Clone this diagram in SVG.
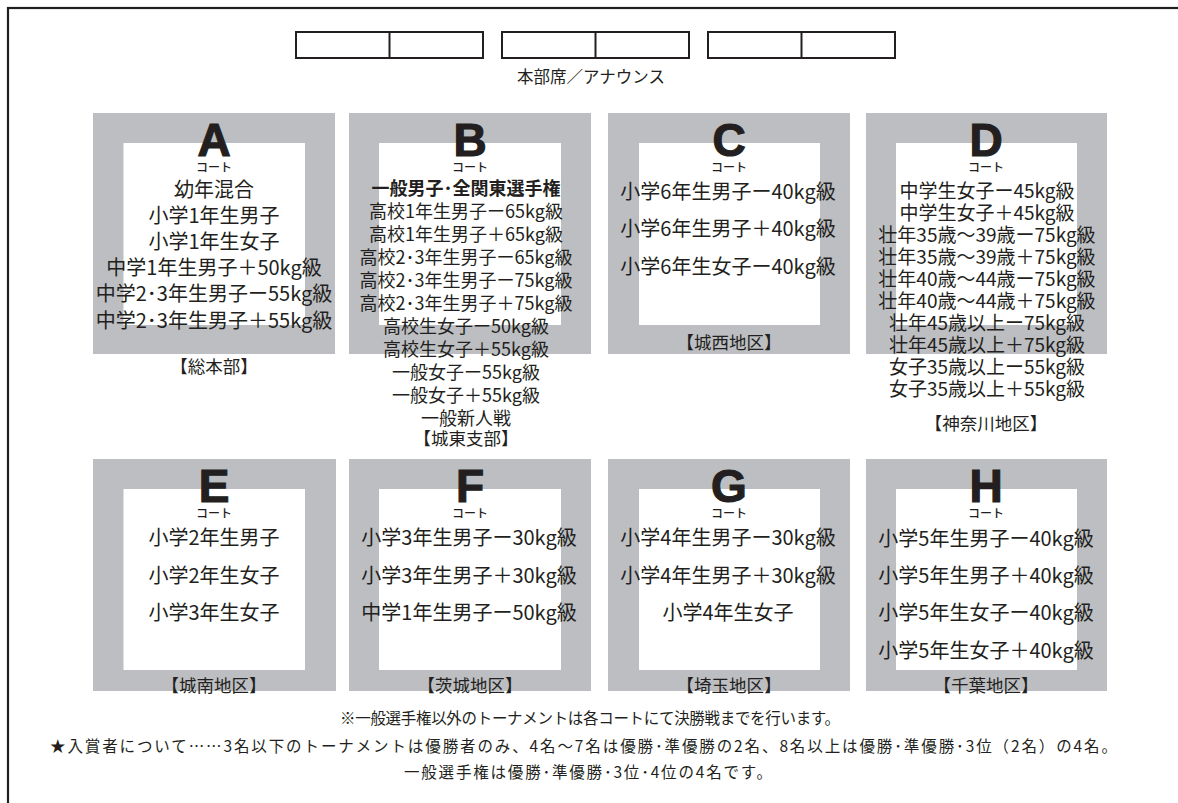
<svg xmlns="http://www.w3.org/2000/svg" width="1178" height="803" viewBox="0 0 1178 803">
<style>
.bg{fill:#ffffff}
.frame{fill:none;stroke:#231f20;stroke-width:2.2}
.desk{fill:#ffffff;stroke:#231f20;stroke-width:2}
.court{fill:#bcbec1}
.inner{fill:#ffffff}
.t{font-family:"Noto Sans CJK JP","Noto Sans",sans-serif;fill:#231f20;text-anchor:middle}
.a{font-size:20px}
.b{font-size:18px}
.d{font-size:19px}
.bold{font-weight:bold}
.lab{font-size:17.5px}
.ct{font-size:12px;font-weight:500}
.L{font-family:"Liberation Sans",Arial,sans-serif;font-weight:bold;font-size:46px;fill:#231f20;stroke:#231f20;stroke-width:1.2;text-anchor:middle}
.note{font-family:"Noto Sans CJK JP","Noto Sans",sans-serif;fill:#231f20;font-size:15.5px}
</style>
<rect class="bg" x="0" y="0" width="1178" height="803"/>
<rect class="frame" x="8" y="8" width="1200" height="900"/>

<g id="desk">
  <rect class="desk" x="296" y="32" width="187" height="26"/>
  <line x1="389.5" y1="32" x2="389.5" y2="58" stroke="#231f20" stroke-width="2"/>
  <rect class="desk" x="502" y="32" width="187" height="26"/>
  <line x1="595.5" y1="32" x2="595.5" y2="58" stroke="#231f20" stroke-width="2"/>
  <rect class="desk" x="708" y="32" width="187" height="26"/>
  <line x1="801.5" y1="32" x2="801.5" y2="58" stroke="#231f20" stroke-width="2"/>
  <text class="t" x="591" y="83" font-size="16.5">本部席／アナウンス</text>
</g>

<g id="court-A">
  <rect class="court" x="93" y="113" width="242" height="241"/>
  <rect class="inner" x="123.5" y="143" width="181.5" height="182"/>
  <text class="L" x="214" y="156">A</text>
  <text class="t ct" x="214" y="172">コート</text>
  <text class="t a" x="214" y="197">幼年混合</text>
  <text class="t a" x="214" y="223">小学1年生男子</text>
  <text class="t a" x="214" y="249">小学1年生女子</text>
  <text class="t a" x="214" y="275">中学1年生男子＋50kg級</text>
  <text class="t a" x="214" y="301">中学2･3年生男子ー55kg級</text>
  <text class="t a" x="214" y="328">中学2･3年生男子＋55kg級</text>
  <text class="t lab" x="214" y="373">【総本部】</text>
</g>

<g id="court-B">
  <rect class="court" x="349" y="113" width="242" height="241"/>
  <rect class="inner" x="379" y="143" width="182" height="182"/>
  <text class="L" x="470" y="156">B</text>
  <text class="t ct" x="470" y="172">コート</text>
  <text class="t b bold" x="466" y="195" font-size="18.5">一般男子･全関東選手権</text>
  <text class="t b" x="466" y="218">高校1年生男子ー65kg級</text>
  <text class="t b" x="466" y="241">高校1年生男子＋65kg級</text>
  <text class="t b" x="466" y="264">高校2･3年生男子ー65kg級</text>
  <text class="t b" x="466" y="287">高校2･3年生男子ー75kg級</text>
  <text class="t b" x="466" y="310">高校2･3年生男子＋75kg級</text>
  <text class="t b" x="466" y="333">高校生女子ー50kg級</text>
  <text class="t b" x="466" y="356">高校生女子＋55kg級</text>
  <text class="t b" x="466" y="379">一般女子ー55kg級</text>
  <text class="t b" x="466" y="402">一般女子＋55kg級</text>
  <text class="t b" x="466" y="425">一般新人戦</text>
  <text class="t lab" x="466" y="445">【城東支部】</text>
</g>

<g id="court-C">
  <rect class="court" x="608" y="113" width="242" height="241"/>
  <rect class="inner" x="639" y="143" width="181" height="182"/>
  <text class="L" x="729" y="156">C</text>
  <text class="t ct" x="729" y="172">コート</text>
  <text class="t a" x="728" y="199">小学6年生男子ー40kg級</text>
  <text class="t a" x="728" y="236">小学6年生男子＋40kg級</text>
  <text class="t a" x="728" y="274">小学6年生女子ー40kg級</text>
  <text class="t lab" x="729" y="349">【城西地区】</text>
</g>

<g id="court-D">
  <rect class="court" x="866" y="113" width="241" height="241"/>
  <rect class="inner" x="896" y="143" width="181" height="182"/>
  <text class="L" x="986" y="156">D</text>
  <text class="t ct" x="986" y="172">コート</text>
  <text class="t d" x="987" y="198">中学生女子ー45kg級</text>
  <text class="t d" x="987" y="220">中学生女子＋45kg級</text>
  <text class="t d" x="987" y="242">壮年35歳～39歳ー75kg級</text>
  <text class="t d" x="987" y="264">壮年35歳～39歳＋75kg級</text>
  <text class="t d" x="987" y="286">壮年40歳～44歳ー75kg級</text>
  <text class="t d" x="987" y="308">壮年40歳～44歳＋75kg級</text>
  <text class="t d" x="987" y="330">壮年45歳以上ー75kg級</text>
  <text class="t d" x="987" y="352">壮年45歳以上＋75kg級</text>
  <text class="t d" x="987" y="374">女子35歳以上ー55kg級</text>
  <text class="t d" x="987" y="396">女子35歳以上＋55kg級</text>
  <text class="t lab" x="986" y="430">【神奈川地区】</text>
</g>

<g id="court-E">
  <rect class="court" x="93" y="459" width="243" height="232"/>
  <rect class="inner" x="123.5" y="489" width="181.5" height="181"/>
  <text class="L" x="214" y="502">E</text>
  <text class="t ct" x="214" y="518">コート</text>
  <text class="t a" x="214" y="545">小学2年生男子</text>
  <text class="t a" x="214" y="583">小学2年生女子</text>
  <text class="t a" x="214" y="620">小学3年生女子</text>
  <text class="t lab" x="214" y="692">【城南地区】</text>
</g>

<g id="court-F">
  <rect class="court" x="349" y="459" width="242" height="232"/>
  <rect class="inner" x="379" y="489" width="182" height="181"/>
  <text class="L" x="470" y="502">F</text>
  <text class="t ct" x="470" y="518">コート</text>
  <text class="t a" x="469" y="545">小学3年生男子ー30kg級</text>
  <text class="t a" x="469" y="583">小学3年生男子＋30kg級</text>
  <text class="t a" x="469" y="620">中学1年生男子ー50kg級</text>
  <text class="t lab" x="470" y="692">【茨城地区】</text>
</g>

<g id="court-G">
  <rect class="court" x="608" y="459" width="242" height="232"/>
  <rect class="inner" x="639" y="489" width="181" height="181"/>
  <text class="L" x="729" y="502">G</text>
  <text class="t ct" x="729" y="518">コート</text>
  <text class="t a" x="728" y="545">小学4年生男子ー30kg級</text>
  <text class="t a" x="728" y="583">小学4年生男子＋30kg級</text>
  <text class="t a" x="728" y="620">小学4年生女子</text>
  <text class="t lab" x="729" y="692">【埼玉地区】</text>
</g>

<g id="court-H">
  <rect class="court" x="866" y="459" width="241" height="232"/>
  <rect class="inner" x="896" y="489" width="181" height="181"/>
  <text class="L" x="986" y="502">H</text>
  <text class="t ct" x="986" y="518">コート</text>
  <text class="t a" x="986" y="546">小学5年生男子ー40kg級</text>
  <text class="t a" x="986" y="583">小学5年生男子＋40kg級</text>
  <text class="t a" x="986" y="620">小学5年生女子ー40kg級</text>
  <text class="t a" x="986" y="658">小学5年生女子＋40kg級</text>
  <text class="t lab" x="986" y="692">【千葉地区】</text>
</g>

<g id="connectors"></g>

<g id="notes">
  <text class="note" x="340" y="724" textLength="500">※一般選手権以外のトーナメントは各コートにて決勝戦までを行います。</text>
  <text class="note" x="50" y="752" textLength="1067">★入賞者について……3名以下のトーナメントは優勝者のみ、4名～7名は優勝･準優勝の2名、8名以上は優勝･準優勝･3位（2名）の4名。</text>
  <text class="note" x="404" y="778" textLength="368">一般選手権は優勝･準優勝･3位･4位の4名です。</text>
</g>
</svg>
